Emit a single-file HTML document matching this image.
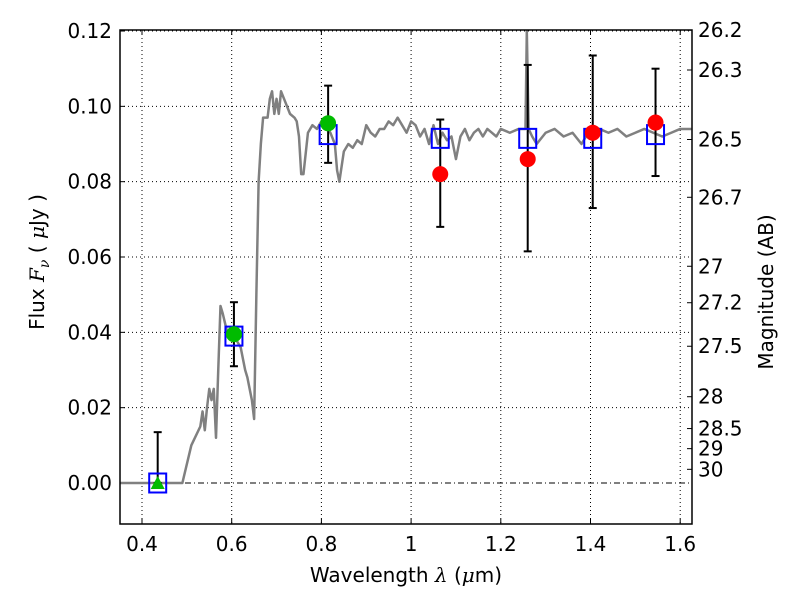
<!DOCTYPE html>
<html><head><meta charset="utf-8"><style>
body{margin:0;background:#fff}
svg text{font-family:"DejaVu Sans","Liberation Sans",sans-serif;fill:#000}
</style></head><body>
<svg id="chart" width="800" height="600" xmlns="http://www.w3.org/2000/svg"></svg>
<script>
const xTicks=[0.4,0.6,0.8,1.0,1.2,1.4,1.6];
const xTickLabels=["0.4","0.6","0.8","1","1.2","1.4","1.6"];
const yTicks=[0,0.02,0.04,0.06,0.08,0.10,0.12];
const yTickLabels=["0.00","0.02","0.04","0.06","0.08","0.10","0.12"];
const magTicks=[26.2,26.3,26.5,26.7,27,27.2,27.5,28,28.5,29,30];
const specX=[0.35,0.49,0.51,0.53,0.535,0.54,0.545,0.55,0.555,0.56,0.565,0.57,0.575,0.58,0.59,0.6,0.61,0.62,0.625,0.63,0.635,0.64,0.645,0.65,0.655,0.66,0.665,0.67,0.68,0.685,0.69,0.695,0.7,0.705,0.71,0.72,0.73,0.74,0.745,0.75,0.755,0.76,0.77,0.78,0.79,0.8,0.81,0.82,0.83,0.835,0.84,0.85,0.86,0.87,0.88,0.89,0.9,0.91,0.92,0.93,0.94,0.95,0.96,0.97,0.98,0.99,1.0,1.01,1.02,1.03,1.04,1.05,1.06,1.07,1.08,1.09,1.1,1.11,1.12,1.13,1.14,1.15,1.16,1.17,1.18,1.19,1.2,1.22,1.24,1.255,1.258,1.262,1.27,1.28,1.3,1.32,1.34,1.36,1.38,1.39,1.42,1.44,1.46,1.48,1.5,1.52,1.54,1.56,1.58,1.6,1.625];
const specY=[0,0,0.01,0.015,0.019,0.014,0.02,0.025,0.022,0.025,0.012,0.03,0.047,0.045,0.04,0.041,0.038,0.036,0.033,0.03,0.028,0.025,0.022,0.017,0.05,0.08,0.09,0.097,0.097,0.102,0.104,0.098,0.102,0.098,0.104,0.101,0.098,0.097,0.096,0.092,0.082,0.082,0.093,0.095,0.094,0.096,0.095,0.093,0.09,0.083,0.08,0.088,0.09,0.089,0.091,0.09,0.095,0.093,0.092,0.094,0.094,0.096,0.095,0.097,0.095,0.093,0.096,0.095,0.092,0.094,0.09,0.095,0.09,0.093,0.091,0.092,0.086,0.092,0.094,0.091,0.093,0.094,0.092,0.094,0.093,0.092,0.094,0.093,0.094,0.094,0.12,0.094,0.092,0.09,0.093,0.094,0.092,0.093,0.09,0.092,0.094,0.093,0.094,0.092,0.093,0.094,0.093,0.092,0.093,0.094,0.094];
const modelX=[0.435,0.605,0.815,1.065,1.26,1.405,1.545];
const modelY=[0.0,0.039,0.0925,0.0915,0.0915,0.0915,0.0925];
const greenX=[0.605,0.815];
const greenY=[0.0395,0.0955];
const triX=[0.435];
const triY=[0.0];
const redX=[1.065,1.26,1.405,1.545];
const redY=[0.082,0.086,0.093,0.0957];
const errX=[0.435,0.605,0.815,1.065,1.26,1.405,1.545];
const errLo=[0,0.031,0.085,0.068,0.0615,0.073,0.0815];
const errHi=[0.0135,0.048,0.1055,0.0965,0.111,0.1135,0.11];

const L=120,R=692,T=30,B=524;
const X=v=>142+(v-0.4)*448.5;
const Y=v=>483-v*3766.5;
const mag2y=m=>Y(Math.pow(10,(23.9-m)/2.5));
const NS="http://www.w3.org/2000/svg";
const svg=document.getElementById('chart');
function mk(tag,attrs,parent){const e=document.createElementNS(NS,tag);for(const k in attrs)e.setAttribute(k,attrs[k]);(parent||svg).appendChild(e);return e;}

const grid=mk('g',{});


xTicks.forEach((t,i)=>{
  mk('line',{x1:X(t),x2:X(t),y1:T,y2:B,stroke:'#000','stroke-width':1,'stroke-dasharray':'1,3'},grid);
  mk('line',{x1:X(t),x2:X(t),y1:B,y2:B-5,stroke:'#000'},grid);
  mk('line',{x1:X(t),x2:X(t),y1:T,y2:T+5,stroke:'#000'},grid);
  const tx=mk('text',{x:X(t),y:B+27,'text-anchor':'middle','font-size':20});
  tx.textContent=xTickLabels[i];
  
  
});
yTicks.forEach((t,i)=>{
  mk('line',{x1:L,x2:R,y1:Y(t),y2:Y(t),stroke:'#000','stroke-width':1,'stroke-dasharray':t===0?'6,3,1,3':'1,3'},grid);
  mk('line',{x1:L,x2:L+5,y1:Y(t),y2:Y(t),stroke:'#000'},grid);
  const tx=mk('text',{x:L-8,y:Y(t)+7,'text-anchor':'end','font-size':20});
  tx.textContent=yTickLabels[i];
  
  
});
magTicks.forEach(m=>{
  const y=mag2y(m);
  mk('line',{x1:R-5,x2:R,y1:y,y2:y,stroke:'#000'},grid);
  const tx=mk('text',{x:R+6,y:y+7,'font-size':20});
  tx.textContent=String(m);
  
  
});

const sp=mk('polyline',{points:specX.map((x,i)=>X(x)+','+Y(specY[i])).join(' '),fill:'none',stroke:'#808080','stroke-width':2.5,'stroke-linejoin':'round'});



errX.forEach((x,i)=>{
  const g=mk('g',{stroke:'#000','stroke-width':2});
  
  
  mk('line',{x1:X(x),x2:X(x),y1:Y(errLo[i]),y2:Y(errHi[i])},g);
  mk('line',{x1:X(x)-4,x2:X(x)+4,y1:Y(errLo[i]),y2:Y(errLo[i])},g);
  mk('line',{x1:X(x)-4,x2:X(x)+4,y1:Y(errHi[i]),y2:Y(errHi[i])},g);
});
modelX.forEach((x,i)=>{
  const r=mk('rect',{x:X(x)-8.5,y:Y(modelY[i])-9.5,width:17,height:19,fill:'none',stroke:'#0000ff','stroke-width':2});
  
  
});
greenX.forEach((x,i)=>{
  const c=mk('circle',{cx:X(x),cy:Y(greenY[i]),r:8,fill:'#00bb00'});
  
  
});
triX.forEach((x,i)=>{
  const px=X(x),py=Y(triY[i]);
  const p=mk('polygon',{points:`${px},${py-7} ${px-7},${py+6} ${px+7},${py+6}`,fill:'#00bb00'});
  
  
});
redX.forEach((x,i)=>{
  const c=mk('circle',{cx:X(x),cy:Y(redY[i]),r:8,fill:'#ff0000'});
  
  
});

const fr=mk('rect',{x:L,y:T,width:R-L,height:B-T,fill:'none',stroke:'#000','stroke-width':1.5});


</script>
<svg width="800" height="600" style="position:absolute;left:0;top:0">
<text x="406" y="582" text-anchor="middle" font-size="20">Wavelength  <tspan font-style="italic" font-family="DejaVu Serif">λ</tspan> (<tspan font-style="italic" font-family="DejaVu Serif">μ</tspan>m)</text>
<text transform="translate(44,262) rotate(-90)" text-anchor="middle" font-size="20">Flux  <tspan font-style="italic" font-family="DejaVu Serif">F</tspan><tspan font-style="italic" font-family="DejaVu Serif" font-size="14" dy="5">ν</tspan><tspan dy="-5">  (  </tspan><tspan font-style="italic" font-family="DejaVu Serif">μ</tspan>Jy )</text>
<text transform="translate(773,292) rotate(-90)" text-anchor="middle" font-size="20">Magnitude (AB)</text>
</svg>
</body></html>
